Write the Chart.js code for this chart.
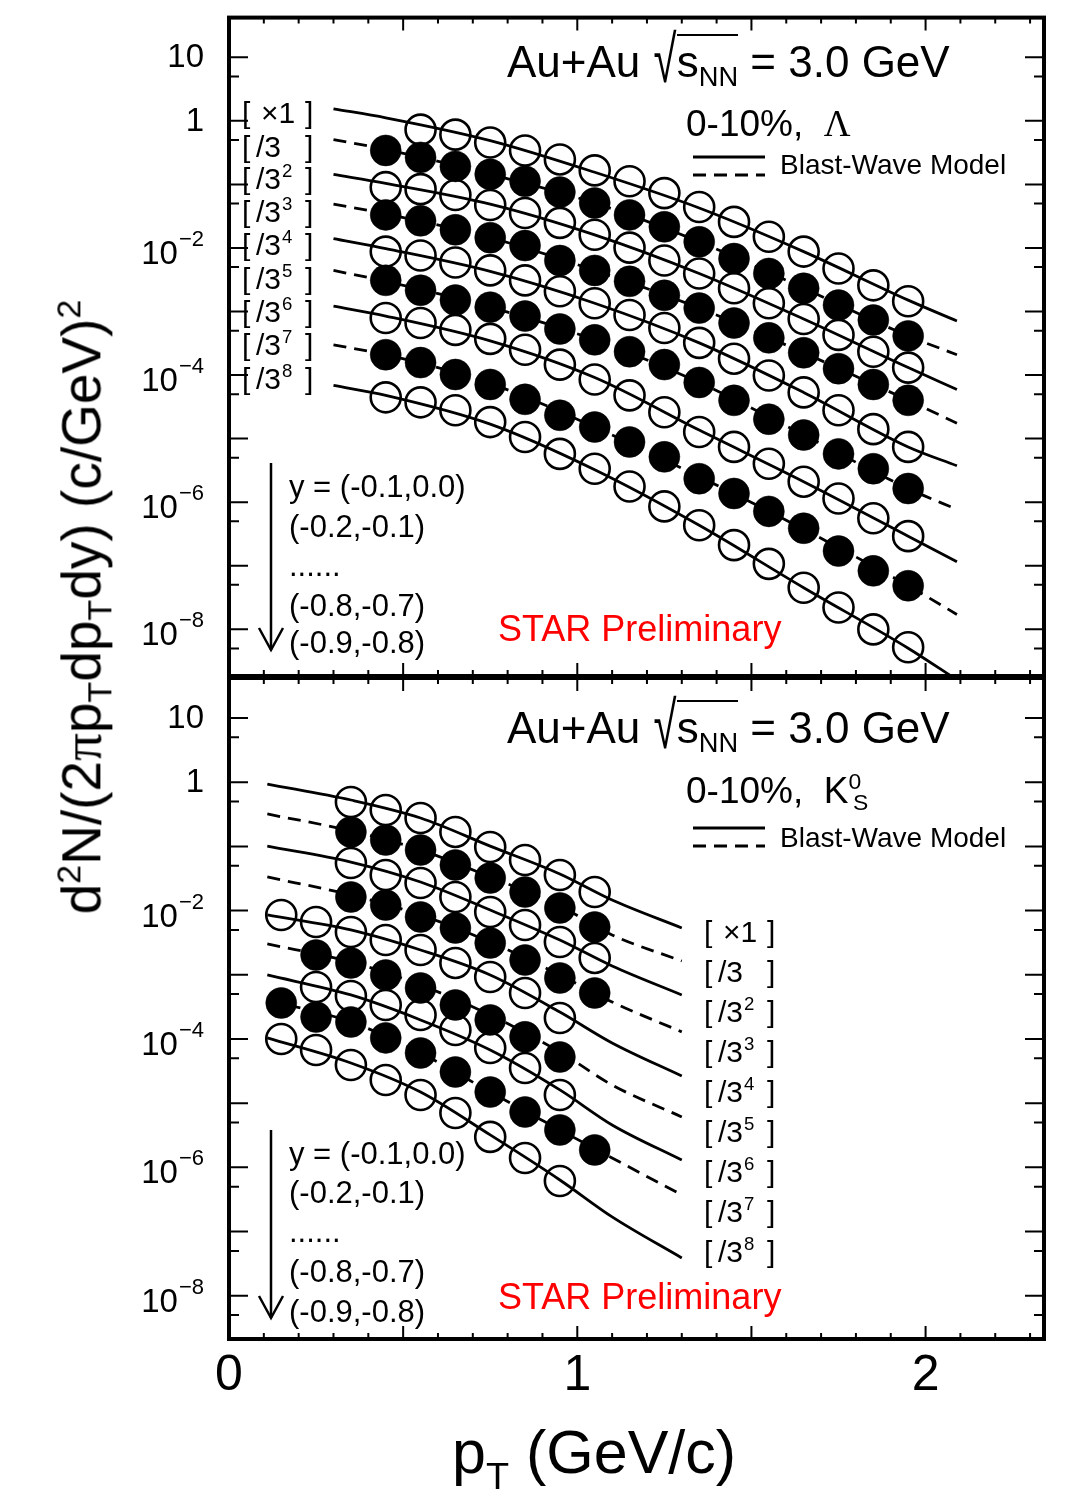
<!DOCTYPE html>
<html><head><meta charset="utf-8">
<script src="https://cdn.jsdelivr.net/npm/chart.js@4.4.1/dist/chart.umd.min.js"></script>
<style>
html,body{margin:0;padding:0;background:#fff;}
#wrap{position:relative;width:1077px;height:1502px;overflow:hidden;font-family:"Liberation Sans",Arial,Helvetica,sans-serif;color:#000;}
canvas{position:absolute;left:0;top:0;}
.t{position:absolute;white-space:nowrap;line-height:1;transform:translateY(-50%);}
.sup{font-size:0.62em;position:relative;top:-0.6em;}
.sub{font-size:0.62em;position:relative;top:0.32em;}
.rad{display:inline-block;transform:scale(0.95,1.5);transform-origin:50% 60%;}
.ov{border-top:2px solid #000;padding-top:1px;}
.serif{font-family:"Liberation Serif","Times New Roman",serif;}
.bl{position:absolute;height:0;font-size:30px;}
.bl > span{position:absolute;top:0;transform:translateY(-50%);line-height:1;white-space:nowrap;}
.bl .sup{position:relative;top:-0.62em;font-size:0.62em;margin-left:1px;}
</style></head>
<body><div id="wrap">
<canvas id="cTop" width="1077" height="1502" style="width:1077px;height:1502px"></canvas>
<canvas id="cBot" width="1077" height="1502" style="width:1077px;height:1502px"></canvas>

<!-- top panel texts -->
<div class="t" style="left:507px;top:62px;font-size:44px">Au+Au&nbsp;<span class="rad">√</span><span class="ov">s<span class="sub">NN</span></span> = 3.0 GeV</div>
<div class="t" style="left:686px;top:123px;font-size:37px">0-10%,&nbsp; <span class="serif">Λ</span></div>
<div class="t" style="left:780px;top:165px;font-size:28px">Blast-Wave Model</div>
<div class="bl" style="left:242px;top:113px"><span style="left:0">[</span><span style="left:19px">×1</span><span style="left:63px">]</span></div>
<div class="bl" style="left:242px;top:147px"><span style="left:0">[</span><span style="left:14px">/3</span><span style="left:63px">]</span></div>
<div class="bl" style="left:242px;top:179px"><span style="left:0">[</span><span style="left:14px">/3<span class="sup">2</span></span><span style="left:63px">]</span></div>
<div class="bl" style="left:242px;top:212px"><span style="left:0">[</span><span style="left:14px">/3<span class="sup">3</span></span><span style="left:63px">]</span></div>
<div class="bl" style="left:242px;top:245px"><span style="left:0">[</span><span style="left:14px">/3<span class="sup">4</span></span><span style="left:63px">]</span></div>
<div class="bl" style="left:242px;top:279px"><span style="left:0">[</span><span style="left:14px">/3<span class="sup">5</span></span><span style="left:63px">]</span></div>
<div class="bl" style="left:242px;top:312px"><span style="left:0">[</span><span style="left:14px">/3<span class="sup">6</span></span><span style="left:63px">]</span></div>
<div class="bl" style="left:242px;top:345px"><span style="left:0">[</span><span style="left:14px">/3<span class="sup">7</span></span><span style="left:63px">]</span></div>
<div class="bl" style="left:242px;top:379px"><span style="left:0">[</span><span style="left:14px">/3<span class="sup">8</span></span><span style="left:63px">]</span></div>
<div class="t" style="left:289px;top:486px;font-size:31px">y = (-0.1,0.0)</div>
<div class="t" style="left:289px;top:526px;font-size:31px">(-0.2,-0.1)</div>
<div class="t" style="left:289px;top:565px;font-size:31px">......</div>
<div class="t" style="left:289px;top:605px;font-size:31px">(-0.8,-0.7)</div>
<div class="t" style="left:289px;top:642px;font-size:31px">(-0.9,-0.8)</div>
<div class="t" style="left:498px;top:629px;font-size:36px;color:#ff0000">STAR Preliminary</div>

<!-- bottom panel texts -->
<div class="t" style="left:507px;top:728px;font-size:44px">Au+Au&nbsp;<span class="rad">√</span><span class="ov">s<span class="sub">NN</span></span> = 3.0 GeV</div>
<div class="t" style="left:686px;top:790px;font-size:37px">0-10%,&nbsp; K<span class="sup">0</span><span class="sub" style="margin-left:-0.36em">S</span></div>
<div class="t" style="left:780px;top:838px;font-size:28px">Blast-Wave Model</div>
<div class="bl" style="left:704px;top:932px"><span style="left:0">[</span><span style="left:19px">×1</span><span style="left:63px">]</span></div>
<div class="bl" style="left:704px;top:972px"><span style="left:0">[</span><span style="left:14px">/3</span><span style="left:63px">]</span></div>
<div class="bl" style="left:704px;top:1012px"><span style="left:0">[</span><span style="left:14px">/3<span class="sup">2</span></span><span style="left:63px">]</span></div>
<div class="bl" style="left:704px;top:1052px"><span style="left:0">[</span><span style="left:14px">/3<span class="sup">3</span></span><span style="left:63px">]</span></div>
<div class="bl" style="left:704px;top:1092px"><span style="left:0">[</span><span style="left:14px">/3<span class="sup">4</span></span><span style="left:63px">]</span></div>
<div class="bl" style="left:704px;top:1132px"><span style="left:0">[</span><span style="left:14px">/3<span class="sup">5</span></span><span style="left:63px">]</span></div>
<div class="bl" style="left:704px;top:1172px"><span style="left:0">[</span><span style="left:14px">/3<span class="sup">6</span></span><span style="left:63px">]</span></div>
<div class="bl" style="left:704px;top:1212px"><span style="left:0">[</span><span style="left:14px">/3<span class="sup">7</span></span><span style="left:63px">]</span></div>
<div class="bl" style="left:704px;top:1252px"><span style="left:0">[</span><span style="left:14px">/3<span class="sup">8</span></span><span style="left:63px">]</span></div>
<div class="t" style="left:289px;top:1153px;font-size:31px">y = (-0.1,0.0)</div>
<div class="t" style="left:289px;top:1192px;font-size:31px">(-0.2,-0.1)</div>
<div class="t" style="left:289px;top:1231px;font-size:31px">......</div>
<div class="t" style="left:289px;top:1271px;font-size:31px">(-0.8,-0.7)</div>
<div class="t" style="left:289px;top:1311px;font-size:31px">(-0.9,-0.8)</div>
<div class="t" style="left:498px;top:1297px;font-size:36px;color:#ff0000">STAR Preliminary</div>

<!-- axis titles -->
<div style="position:absolute;left:82px;top:607px;transform:translate(-50%,-50%) rotate(-90deg);font-size:55px;white-space:nowrap;line-height:1.15">d<span class="sup">2</span>N/(2<span class="serif">π</span>p<span class="sub">T</span>dp<span class="sub">T</span>dy) (c/GeV)<span class="sup">2</span></div>
<div class="t" style="left:452px;top:1452px;font-size:61px">p<span class="sub" style="top:0.42em">T</span> (GeV/c)</div>
</div>
<script>
// ---------------- data ----------------
const lambdaPt = [0.45,0.55,0.65,0.75,0.85,0.95,1.05,1.15,1.25,1.35,1.45,1.55,1.65,1.75,1.85,1.95];
const lambdaY0 = [null,0.726,0.607,0.455,0.342,0.247,0.166,0.112,0.0729,0.0441,0.0257,0.0150,0.00876,0.00475,0.00258,0.00145];
const lambdaY1 = [0.342,0.266,0.192,0.144,0.112,0.0756,0.0509,0.0331,0.0215,0.0125,0.00681,0.00397,0.00232,0.00126,0.000734,0.000413];
const lambdaY2 = [0.0904,0.0842,0.0679,0.0474,0.0355,0.0248,0.0161,0.0101,0.00634,0.00397,0.00232,0.00135,0.000761,0.000428,0.000233,0.000131];
const lambdaY3 = [0.0331,0.0267,0.0193,0.0145,0.0109,0.00634,0.00443,0.00298,0.00180,0.00113,0.000659,0.000385,0.000224,0.000126,7.11e-5,4.00e-5];
const lambdaY4 = [0.00876,0.00759,0.00590,0.00443,0.00309,0.00208,0.00135,0.000879,0.000551,0.000321,0.000181,9.82e-5,5.33e-5,2.79e-5,1.41e-5,7.40e-6];
const lambdaY5 = [0.00309,0.00216,0.00151,0.00117,0.000848,0.000531,0.000358,0.000233,0.000146,7.64e-5,4.00e-5,2.02e-5,1.14e-5,5.75e-6,3.36e-6,1.64e-6];
const lambdaY6 = [0.000789,0.000659,0.000513,0.000371,0.000250,0.000146,8.51e-5,4.79e-5,2.60e-5,1.27e-5,7.40e-6,4.02e-6,2.10e-6,1.14e-6,5.57e-7,2.92e-7];
const lambdaY7 = [0.000209,0.000157,0.000102,7.11e-5,4.15e-5,2.33e-5,1.52e-5,8.85e-6,5.16e-6,2.34e-6,1.37e-6,7.16e-7,3.89e-7,1.70e-7,8.30e-8,4.84e-8];
const lambdaY8 = [4.46e-5,3.72e-5,2.79e-5,1.82e-5,1.06e-5,5.75e-6,3.36e-6,1.76e-6,8.57e-7,4.33e-7,2.11e-7,1.07e-7,4.51e-8,2.20e-8,9.96e-9,5.22e-9];

const lambdaFitPt = [0.3,0.45,0.75,1.05,1.35,1.65,1.95,2.09];
const lambdaFit0 = [1.545,1.118,0.489,0.155,0.0425,0.00876,0.00151,0.000708];
const lambdaFit1 = [0.507,0.354,0.144,0.0509,0.0125,0.00232,0.000413,0.000209];
const lambdaFit2 = [0.144,0.104,0.0491,0.0161,0.00397,0.000761,0.000131,5.94e-5];
const lambdaFit3 = [0.0491,0.0343,0.0145,0.00443,0.00113,0.000224,4.00e-5,1.75e-5];
const lambdaFit4 = [0.0140,0.00975,0.00427,0.00135,0.000321,5.33e-5,7.40e-6,3.74e-6];
const lambdaFit5 = [0.00443,0.00298,0.00117,0.000358,7.64e-5,1.14e-5,1.64e-6,7.69e-7];
const lambdaFit6 = [0.00121,0.000848,0.000345,9.14e-5,1.36e-5,2.10e-6,2.92e-7,1.15e-7];
const lambdaFit7 = [0.000299,0.000209,7.37e-5,1.52e-5,2.52e-6,3.75e-7,4.84e-8,1.71e-8];
const lambdaFit8 = [6.86e-5,4.79e-5,1.69e-5,3.24e-6,4.33e-7,4.51e-8,5.04e-9,1.60e-9];

const k0Pt = [0.15,0.25,0.35,0.45,0.55,0.65,0.75,0.85,0.95,1.05];
const k0Y0 = [null,null,0.492,0.369,0.277,0.168,0.0979,0.0614,0.0359,0.0195];
const k0Y1 = [null,null,0.168,0.126,0.0879,0.0513,0.0322,0.0195,0.0110,0.00555];
const k0Y2 = [null,null,0.0551,0.0359,0.0269,0.0163,0.00951,0.00597,0.00324,0.00183];
const k0Y3 = [null,null,0.0163,0.0122,0.00795,0.00536,0.00313,0.00170,0.000892,0.000521];
const k0Y4 = [0.00854,0.00664,0.00464,0.00348,0.00243,0.00153,0.000924,0.000521,0.000212,null];
const k0Y5 = [null,0.00203,0.00153,0.000993,0.000623,0.000339,0.000198,0.000108,5.24e-5,null];
const k0Y6 = [null,0.000646,0.000468,0.000339,0.000236,0.000138,7.24e-5,3.53e-5,1.34e-5,null];
const k0Y7 = [0.000364,0.000220,0.000184,0.000104,6.05e-5,3.06e-5,1.49e-5,7.29e-6,3.83e-6,1.87e-6];
const k0Y8 = [1.00e-4,6.74e-5,3.94e-5,2.30e-5,1.34e-5,7.04e-6,2.98e-6,1.40e-6,6.14e-7,null];

const k0FitPt = [0.11,0.35,0.55,0.75,0.95,1.1,1.3];
const k0Fit0 = [0.937,0.528,0.277,0.101,0.0372,0.0146,0.00536];
const k0Fit1 = [0.320,0.174,0.0879,0.0334,0.0118,0.00417,0.00164];
const k0Fit2 = [0.101,0.0571,0.0279,0.0102,0.00348,0.00137,0.000485];
const k0Fit3 = [0.0334,0.0175,0.00854,0.00324,0.000993,0.000377,0.000129];
const k0Fit4 = [0.00854,0.00499,0.00243,0.000993,0.000263,8.67e-5,2.65e-5];
const k0Fit5 = [0.00302,0.00158,0.000694,0.000236,6.27e-5,1.92e-5,6.10e-6];
const k0Fit6 = [0.000993,0.000485,0.000198,6.74e-5,1.61e-5,4.58e-6,1.30e-6];
const k0Fit7 = [0.000405,0.000184,6.05e-5,1.49e-5,3.83e-6,1.40e-6,3.72e-7];
const k0Fit8 = [0.000104,4.23e-5,1.49e-5,3.20e-6,6.36e-7,1.69e-7,3.88e-8];

const xTickValues = [0,1,2];
const xTickText = ['0','1','2'];
const yTickValues = [10,1,1e-2,1e-4,1e-6,1e-8];
const yTickMant = ['10','1','10','10','10','10'];
const yTickExp = [null,null,'\u22122','\u22124','\u22126','\u22128'];

// ---------------- build ----------------
const FONT = "'Liberation Sans', Arial, Helvetica, sans-serif";
Chart.defaults.font.family = FONT;
Chart.defaults.color = '#000';

const toPts = (xs, ys) => xs.map((x,i)=>({x:x, y:ys[i]})).filter(p=>p.y!==null);

function buildDatasets(pt, series, fitPt, fits){
  const ds = [];
  series.forEach((ys,k)=>{
    const filled = (k%2===1);
    ds.push({data:toPts(pt,ys), showLine:false, order:0,
      pointStyle:'circle', pointRadius: filled?15.5:15, pointHoverRadius:0,
      pointBackgroundColor: filled?'#000':'rgba(0,0,0,0)',
      pointBorderColor:'#000', pointBorderWidth: filled?0.5:2.6});
  });
  fits.forEach((ys,k)=>{
    ds.push({data:toPts(fitPt,ys), showLine:true, order:1, pointRadius:0,
      borderColor:'#000', borderWidth:2.8, borderDash: (k%2===1)?[13,8]:[],
      cubicInterpolationMode:'monotone', fill:false});
  });
  return ds;
}

const deco = {
  id:'deco',
  afterDraw(chart, args, o){
    const {ctx, chartArea:a, scales:{x,y}} = chart;
    ctx.save();
    ctx.strokeStyle='#000'; ctx.lineCap='butt';
    ctx.lineWidth=2;
    for(let k=1;k<=23;k++){
      const px=x.getPixelForValue(k/10); const L=(k%5===0)?o.xMaj:o.xMin;
      ctx.beginPath(); ctx.moveTo(px,a.bottom); ctx.lineTo(px,a.bottom-L);
      ctx.moveTo(px,a.top); ctx.lineTo(px,a.top+L); ctx.stroke();
    }
    for(let e=-10;e<=2;e++){
      [[1,o.yMaj],[5,o.yMin]].forEach(([m,L])=>{
        const v=m*Math.pow(10,e);
        if(v<=y.min||v>=y.max) return;
        const py=y.getPixelForValue(v);
        ctx.beginPath(); ctx.moveTo(a.left,py); ctx.lineTo(a.left+L,py);
        ctx.moveTo(a.right,py); ctx.lineTo(a.right-L,py); ctx.stroke();
      });
    }
    // y tick labels (placed with the y scale)
    ctx.fillStyle='#000'; ctx.textAlign='right'; ctx.textBaseline='alphabetic';
    const xr = a.left - 25;
    yTickValues.forEach((v,i)=>{
      if(v<y.min||v>y.max) return;
      const py=y.getPixelForValue(v);
      if(yTickExp[i]===null){
        ctx.font='33px '+FONT; ctx.fillText(yTickMant[i], xr, py+10);
      } else {
        ctx.font='22px '+FONT; const w=ctx.measureText(yTickExp[i]).width;
        ctx.fillText(yTickExp[i], xr, py-2);
        ctx.font='33px '+FONT; ctx.fillText(yTickMant[i], xr-w-1, py+16);
      }
    });
    // legend samples
    ctx.lineWidth=2.8;
    const lg=o.legend;
    ctx.beginPath(); ctx.moveTo(lg[0],lg[2]); ctx.lineTo(lg[1],lg[2]); ctx.stroke();
    ctx.setLineDash([13,8]);
    ctx.beginPath(); ctx.moveTo(lg[0],lg[3]); ctx.lineTo(lg[1],lg[3]); ctx.stroke();
    ctx.setLineDash([]);
    // arrow
    const ar=o.arrow;
    ctx.lineWidth=2.5;
    ctx.beginPath(); ctx.moveTo(ar[0],ar[1]); ctx.lineTo(ar[0],ar[2]); ctx.stroke();
    ctx.beginPath(); ctx.moveTo(ar[0]-12,ar[2]-22); ctx.lineTo(ar[0],ar[2]); ctx.lineTo(ar[0]+12,ar[2]-22); ctx.stroke();
    // frame
    ctx.lineWidth=4;
    ctx.strokeRect(a.left,a.top,a.right-a.left,a.bottom-a.top);
    ctx.restore();
  }
};

function makeChart(id, datasets, yMin, yMax, padTop, padBottom, showX, decoOpts){
  return new Chart(document.getElementById(id), {
    type:'scatter',
    data:{datasets:datasets},
    options:{
      responsive:false, animation:false, events:[],
      layout:{padding:{left:0,right:33,top:padTop,bottom:padBottom}},
      plugins:{legend:{display:false}, tooltip:{enabled:false}, deco:decoOpts},
      scales:{
        x:{type:'linear', min:0, max:2.34, display:showX,
           grid:{display:false, drawTicks:false}, border:{display:false},
           ticks:{font:{size:50}, color:'#000', padding:7, maxRotation:0, autoSkip:false,
                  callback:(v)=>{const i=xTickValues.indexOf(v); return i>=0?xTickText[i]:'';}},
           afterBuildTicks:(s)=>{s.ticks=xTickValues.map(v=>({value:v}));},
           afterFit:(s)=>{s.height=showX?163:0; s.paddingLeft=0; s.paddingRight=0;}},
        y:{type:'logarithmic', min:yMin, max:yMax,
           grid:{display:false, drawTicks:false}, border:{display:false},
           ticks:{display:false},
           afterBuildTicks:(s)=>{s.ticks=yTickValues.map(v=>({value:v}));},
           afterFit:(s)=>{s.width=229; s.paddingTop=0; s.paddingBottom=0;}}
      }
    },
    plugins:[deco]
  });
}

const topDs = buildDatasets(lambdaPt,
  [lambdaY0,lambdaY1,lambdaY2,lambdaY3,lambdaY4,lambdaY5,lambdaY6,lambdaY7,lambdaY8],
  lambdaFitPt,
  [lambdaFit0,lambdaFit1,lambdaFit2,lambdaFit3,lambdaFit4,lambdaFit5,lambdaFit6,lambdaFit7,lambdaFit8]);
const botDs = buildDatasets(k0Pt,
  [k0Y0,k0Y1,k0Y2,k0Y3,k0Y4,k0Y5,k0Y6,k0Y7,k0Y8],
  k0FitPt,
  [k0Fit0,k0Fit1,k0Fit2,k0Fit3,k0Fit4,k0Fit5,k0Fit6,k0Fit7,k0Fit8]);

makeChart('cTop', topDs, 1.84e-9, 42.1, 12, 1502-676, false,
  {xMaj:13,xMin:6,yMaj:19,yMin:10, legend:[693,765,157,175], arrow:[271,463,650]});
makeChart('cBot', botDs, 2.12e-9, 42.0, 678, 0, true,
  {xMaj:13,xMin:6,yMaj:19,yMin:10, legend:[693,765,828,846], arrow:[271,1130,1318]});
</script>
</body></html>
